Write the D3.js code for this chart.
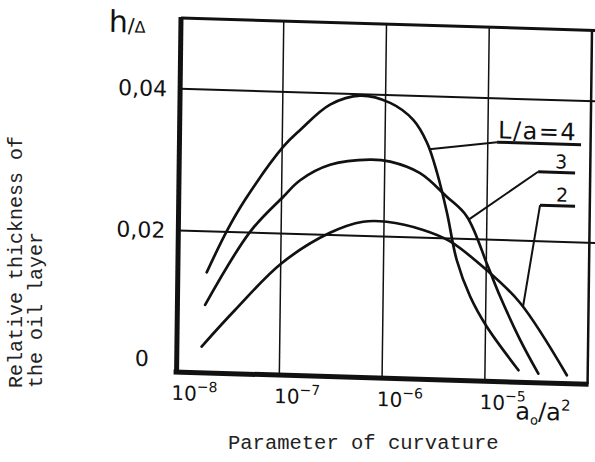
<!DOCTYPE html>
<html>
<head>
<meta charset="utf-8">
<script src="https://cdn.jsdelivr.net/npm/d3@7"></script>
<style>
  body { margin: 0; background: #fff; }
  svg { display: block; }
  .hand { font-family: "DejaVu Sans", sans-serif; fill: #111; }
  .typed { font-family: "Liberation Mono", monospace; fill: #222; }
</style>
</head>
<body>
<div id="chart"></div>
<script>
// values: x = a0/a^2 (log), y = h/delta
var xTicks = [1e-8, 1e-7, 1e-6, 1e-5];
var xTickExp = ["-8", "-7", "-6", "-5"];
var xGrid = [1e-7, 1e-6, 1e-5];
var yGrid = [0.02, 0.04];
var yTicks = [0, 0.02, 0.04];
var yTickLabels = ["0", "0,02", "0,04"];

var curve4X = [1.91e-8, 2.96e-8, 4.42e-8, 1.03e-7, 1.49e-7, 2.89e-7, 5.65e-7, 1.11e-6, 1.87e-6, 2.57e-6, 3.24e-6, 4.09e-6, 5.15e-6, 7.03e-6, 1.03e-5, 2.12e-5];
var curve4Y = [0.0142, 0.0201, 0.0246, 0.0323, 0.0347, 0.0384, 0.0398, 0.0389, 0.0366, 0.0334, 0.0292, 0.0236, 0.0170, 0.0119, 0.0077, 0.0017];

var curve3X = [1.86e-8, 4.99e-8, 1.04e-7, 1.51e-7, 2.94e-7, 7.19e-7, 1.13e-6, 2.21e-6, 4.05e-6, 6.38e-6, 1.04e-5, 1.38e-5, 2.18e-5, 3.31e-5];
var curve3Y = [0.0096, 0.0201, 0.0252, 0.0276, 0.0299, 0.0308, 0.0306, 0.0291, 0.0259, 0.0232, 0.0162, 0.0120, 0.0060, 0.0013];

var curve2X = [1.74e-8, 3.64e-8, 1.02e-7, 2.99e-7, 6.25e-7, 1.06e-6, 2.41e-6, 4.42e-6, 1.01e-5, 2.16e-5, 6.27e-5];
var curve2Y = [0.0037, 0.0090, 0.0158, 0.0203, 0.0220, 0.0221, 0.0211, 0.0196, 0.0157, 0.0112, 0.0012];

var annoLabels = ["L/a=4", "3", "2"];
var annoCurveX = [2.7e-6, 6.6e-6, 2.3e-5];
var annoLabelX = [1.23e-5, 3.11e-5, 3.28e-5];
var annoLabelY = [0.0338, 0.0298, 0.0251];

var width = 595,
    height = 462,
    plotW = 411,
    plotH = 354,
    skewX = -0.0125,   // the scan is slightly sheared
    skewY = 0.03;

var svg = d3.select("#chart").append("svg")
  .attr("width", width)
  .attr("height", height);

var g = svg.append("g")
  .attr("transform", "matrix(1," + skewY + "," + skewX + ",1,181,18)");

var xScale = d3.scaleLog().domain([1e-8, 1e-4]).range([0, plotW]);
var yScale = d3.scaleLinear().domain([0, 0.05]).range([plotH, 0]);

// grid
g.append("g").selectAll("line")
  .data(xGrid)
  .enter()
  .append("line")
  .attr("x1", function (d) { return xScale(d); })
  .attr("x2", function (d) { return xScale(d); })
  .attr("y1", 0)
  .attr("y2", plotH)
  .attr("stroke", "#111")
  .attr("stroke-width", 1.5);

g.append("g").selectAll("line")
  .data(yGrid)
  .enter()
  .append("line")
  .attr("x1", 0)
  .attr("x2", plotW + 8)
  .attr("y1", function (d) { return yScale(d); })
  .attr("y2", function (d) { return yScale(d); })
  .attr("stroke", "#111")
  .attr("stroke-width", 2);

// frame
g.append("line").attr("x1", 0).attr("x2", plotW + 8).attr("y1", 0).attr("y2", 0)
  .attr("stroke", "#111").attr("stroke-width", 3);
g.append("line").attr("x1", plotW).attr("x2", plotW).attr("y1", 0).attr("y2", plotH)
  .attr("stroke", "#111").attr("stroke-width", 2.5);
g.append("line").attr("x1", 0).attr("x2", 0).attr("y1", -1).attr("y2", plotH + 2)
  .attr("stroke", "#111").attr("stroke-width", 5);
g.append("line").attr("x1", -3).attr("x2", plotW + 1).attr("y1", plotH).attr("y2", plotH)
  .attr("stroke", "#111").attr("stroke-width", 5);

// curves
var line = d3.line()
  .x(function (d) { return xScale(d[0]); })
  .y(function (d) { return yScale(d[1]); })
  .curve(d3.curveCatmullRom.alpha(0.5));

var curves = [
  d3.zip(curve4X, curve4Y),
  d3.zip(curve3X, curve3Y),
  d3.zip(curve2X, curve2Y)
];

g.append("g").selectAll("path")
  .data(curves)
  .enter()
  .append("path")
  .attr("d", line)
  .attr("fill", "none")
  .attr("stroke", "#111")
  .attr("stroke-width", 2.7)
  .attr("stroke-linecap", "round");

// value of a curve at x (linear in log x between read points)
function yAt(pts, xv) {
  var lx = Math.log10(xv);
  for (var i = 0; i < pts.length - 1; i++) {
    var a = Math.log10(pts[i][0]), b = Math.log10(pts[i + 1][0]);
    if (lx >= a && lx <= b) {
      var t = (lx - a) / (b - a);
      return pts[i][1] + t * (pts[i + 1][1] - pts[i][1]);
    }
  }
  return pts[pts.length - 1][1];
}

// labels with leaders
var underlineLen = [84, 37, 35];
var labelShift = [0, 23, 22];
var labelSize = [24, 19, 19];

annoLabels.forEach(function (lab, i) {
  var x0 = xScale(annoCurveX[i]), y0 = yScale(yAt(curves[i], annoCurveX[i]));
  var x1 = xScale(annoLabelX[i]), y1 = yScale(annoLabelY[i]);
  g.append("line")
    .attr("x1", x0).attr("y1", y0).attr("x2", x1).attr("y2", y1)
    .attr("stroke", "#111").attr("stroke-width", 2);
  g.append("line")
    .attr("x1", x1).attr("y1", y1).attr("x2", x1 + underlineLen[i]).attr("y2", y1)
    .attr("stroke", "#111").attr("stroke-width", 3);
  g.append("text")
    .attr("class", "hand")
    .attr("x", i === 0 ? x1 + 1 : x1 + labelShift[i])
    .attr("y", y1 - 4)
    .attr("text-anchor", i === 0 ? "start" : "middle")
    .style("font-size", labelSize[i] + "px")
    .style("letter-spacing", i === 0 ? "1.5px" : "0px")
    .text(lab);
});

// tick labels
var xt = g.append("g").selectAll("text")
  .data(xTicks)
  .enter()
  .append("text")
  .attr("class", "hand")
  .attr("x", function (d) { return xScale(d) - 5; })
  .attr("y", plotH + 28)
  .style("font-size", "20px");
xt.append("tspan").text("10");
xt.append("tspan")
  .attr("dy", -9)
  .style("font-size", "14px")
  .text(function (d, i) { return "\u2212" + xTickExp[i].slice(1); });

var unit = g.append("text")
  .attr("class", "hand")
  .attr("x", xScale(1e-5) + 31)
  .attr("y", plotH + 37)
  .style("font-size", "24px");
unit.append("tspan").text("a");
unit.append("tspan").attr("dy", 5).style("font-size", "13px").text("o");
unit.append("tspan").attr("dy", -5).text("/a");
unit.append("tspan").attr("dy", -10).style("font-size", "15px").text("2");

g.append("g").selectAll("text")
  .data(yTicks)
  .enter()
  .append("text")
  .attr("class", "hand")
  .attr("x", function (d) { return d === 0 ? -28 : -13; })
  .attr("y", function (d) { return d === 0 ? plotH - 5 : yScale(d) + 8; })
  .attr("text-anchor", "end")
  .style("font-size", "22px")
  .text(function (d, i) { return yTickLabels[i]; });

var hd = g.append("text")
  .attr("class", "hand")
  .attr("x", -72)
  .attr("y", 16);
hd.append("tspan").style("font-size", "30px").text("h");
hd.append("tspan").style("font-size", "20px").text("/");
hd.append("tspan").style("font-size", "16px").text("\u0394");

// typed captions
svg.append("text")
  .attr("class", "typed")
  .attr("x", 228)
  .attr("y", 449)
  .style("font-size", "20.5px")
  .text("Parameter of curvature");

var yt = svg.append("text")
  .attr("class", "typed")
  .attr("transform", "translate(22,388) rotate(-90)")
  .style("font-size", "20px");
yt.append("tspan").attr("x", 0).attr("y", 0).text("Relative thickness of");
yt.append("tspan").attr("x", 0).attr("y", 20).text("the oil layer");
</script>
</body>
</html>
